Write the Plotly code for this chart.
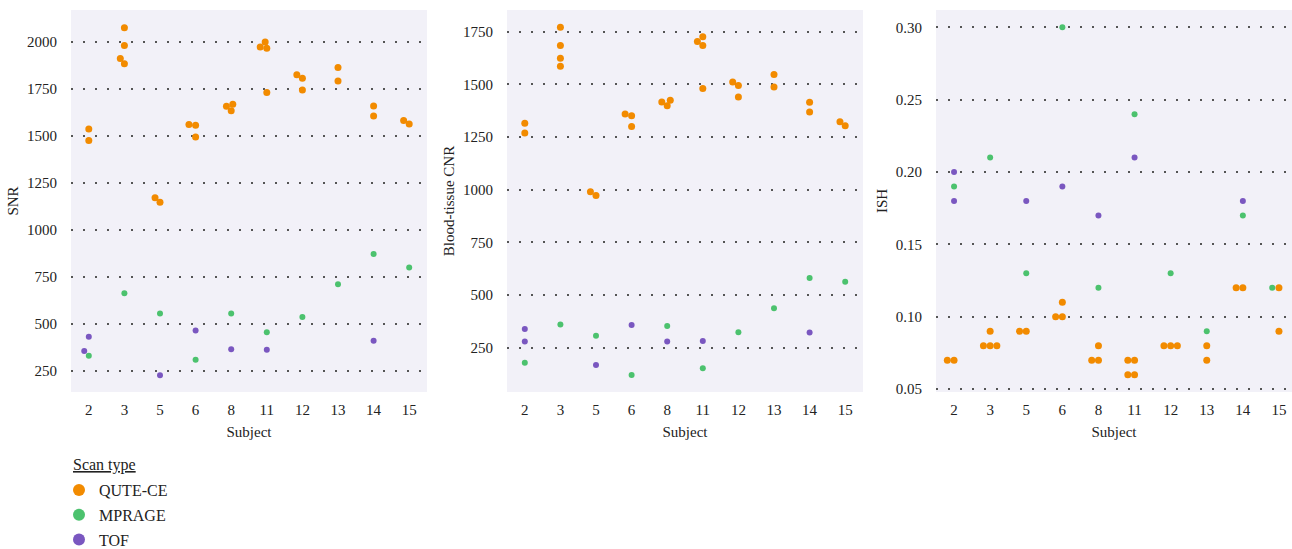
import numpy as np
import plotly.graph_objects as go

subjects = ["2", "3", "5", "6", "8", "11", "12", "13", "14", "15"]
scan_types = ["QUTE-CE", "MPRAGE", "TOF"]
colors = ["#f28b00", "#4cc26e", "#7a57c0"]

# SNR
snr_qute = [[1535, 1475], [2074, 1979, 1910, 1883], [1170, 1147], [1560, 1555, 1493],
            [1656, 1667, 1632], [1998, 1972, 1965, 1729], [1824, 1805, 1743],
            [1863, 1791], [1658, 1605], [1581, 1562]]
snr_mprage = [[331], [663], [555], [310], [555], [456], [537], [711], [871], [800]]
snr_tof = [[431, 356], [], [227], [465], [365], [362], [], [], [411], []]

# Blood-tissue CNR
cnr_qute = [[1316, 1269], [1771, 1684, 1624, 1586], [990, 973], [1359, 1351, 1300],
            [1416, 1398, 1425], [1703, 1726, 1685, 1481], [1511, 1495, 1440],
            [1547, 1487], [1415, 1369], [1323, 1304]]
cnr_mprage = [[179], [360], [307], [121], [353], [153], [323], [438], [581], [563]]
cnr_tof = [[339, 280], [], [168], [358], [280], [282], [], [], [322], []]

# ISH
ish_qute = [[0.07, 0.07], [0.09, 0.08, 0.08, 0.08], [0.09, 0.09], [0.11, 0.10, 0.10],
            [0.08, 0.07, 0.07], [0.07, 0.07, 0.06, 0.06], [0.08, 0.08, 0.08],
            [0.08, 0.07], [0.12, 0.12], [0.12, 0.09]]
ish_mprage = [[0.19], [0.21], [0.13], [0.30], [0.12], [0.24], [0.13], [0.09], [0.17], [0.12]]
ish_tof = [[0.20, 0.18], [], [0.18], [0.19], [0.17], [0.21], [], [], [0.18], []]

snr_ticks = [250, 500, 750, 1000, 1250, 1500, 1750, 2000]
cnr_ticks = [250, 500, 750, 1000, 1250, 1500, 1750]
ish_ticks = [0.05, 0.10, 0.15, 0.20, 0.25, 0.30]

W, H = 1292, 549
TOP, BOT = 10, 392
PH = BOT - TOP
FONT = "Liberation Serif"

panels = [
    dict(series=[snr_qute, snr_mprage, snr_tof], yr=[138, 2168], ticks=snr_ticks,
         fmt="d", title="SNR", px=(71, 427), spacing=35.6),
    dict(series=[cnr_qute, cnr_mprage, cnr_tof], yr=[40, 1853], ticks=cnr_ticks,
         fmt="d", title="Blood-tissue CNR", px=(507, 863), spacing=35.6),
    dict(series=[ish_qute, ish_mprage, ish_tof], yr=[0.048, 0.312], ticks=ish_ticks,
         fmt=".2f", title="ISH", px=(936, 1292), spacing=36.1),
]

R = 3.2  # swarm radius in px


def beeswarm(ys_px, r):
    order = np.argsort(ys_px, kind="stable")
    placed = []
    xs = np.zeros(len(ys_px))
    for idx in order:
        y = ys_px[idx]
        neighbors = []
        for xj, yj in reversed(placed):
            if y - yj < 2 * r:
                neighbors.append((xj, yj))
            else:
                break
        neighbors = neighbors[::-1]
        cands = [0.0]
        left_first = True
        for xj, yj in neighbors:
            dy = y - yj
            dx = np.sqrt(max(4 * r * r - dy * dy, 0)) * 1.05
            cl, cr = xj - dx, xj + dx
            cands.extend([cl, cr] if left_first else [cr, cl])
            left_first = not left_first
        cands = np.array(cands)
        cands = cands[np.argsort(np.abs(cands), kind="stable")]
        chosen = cands[0]
        if neighbors:
            for c in cands:
                if all((xj - c) ** 2 + (yj - y) ** 2 >= 4 * r * r - 1e-9 for xj, yj in neighbors):
                    chosen = c
                    break
        placed.append((chosen, y))
        xs[idx] = chosen
    return xs


fig = go.Figure()
layout = {}
for p_i, p in enumerate(panels):
    ax = "" if p_i == 0 else str(p_i + 1)
    y0, y1 = p["yr"]
    S = p["spacing"]
    pts = {h: ([], []) for h in range(3)}
    for c_i in range(len(subjects)):
        vals, hues = [], []
        for h in range(3):
            for v in p["series"][h][c_i]:
                vals.append(v)
                hues.append(h)
        if not vals:
            continue
        ypx = (np.array(vals, dtype=float) - y0) / (y1 - y0) * PH
        offs = beeswarm(ypx, R)
        for v, h, o in zip(vals, hues, offs):
            pts[h][0].append(c_i + o / S)
            pts[h][1].append(v)
    for h in range(3):
        fig.add_trace(go.Scatter(
            x=pts[h][0], y=pts[h][1], mode="markers", name=scan_types[h],
            legendgroup=scan_types[h], showlegend=(p_i == 0),
            marker=dict(color=colors[h], size=7 if h == 0 else 6, line=dict(width=0)),
            xaxis="x" + ax, yaxis="y" + ax, cliponaxis=False,
        ))
    x_left, x_right = p["px"]
    layout["xaxis" + ax] = dict(
        domain=[x_left / W, x_right / W], range=[-0.5, -0.5 + (x_right - x_left) / S],
        tickvals=list(range(len(subjects))), ticktext=subjects, showgrid=False,
        zeroline=False, showline=False, ticks="outside", ticklen=4,
        tickcolor="rgba(0,0,0,0)", anchor="y" + ax, automargin=False,
        title=dict(text="Subject", standoff=9, font=dict(size=15, family=FONT, color="#222")),
        tickfont=dict(size=15, family=FONT, color="#222"), fixedrange=True,
    )
    layout["yaxis" + ax] = dict(
        domain=[0, 1], range=p["yr"], tickvals=p["ticks"], tickformat=p["fmt"],
        showgrid=True, gridcolor="#555555", gridwidth=1.5, griddash="1.5px,10.5px",
        zeroline=False, showline=False, ticks="outside", ticklen=10,
        tickcolor="rgba(0,0,0,0)", anchor="x" + ax, automargin=False,
        title=dict(text=p["title"], standoff=4, font=dict(size=15, family=FONT, color="#222")),
        tickfont=dict(size=15, family=FONT, color="#222"), fixedrange=True,
    )

fig.update_layout(
    width=W, height=H, margin=dict(l=0, r=0, t=TOP, b=H - BOT, autoexpand=False),
    paper_bgcolor="white", plot_bgcolor="#f2f1f8",
    font=dict(family=FONT, size=15, color="#222"),
    showlegend=True,
    legend=dict(
        x=59 / W, xanchor="left", y=(BOT - 473) / PH, yanchor="top",
        itemsizing="constant", traceorder="grouped", tracegroupgap=1,
        font=dict(size=16, family=FONT, color="#222"), bgcolor="rgba(0,0,0,0)",
    ),
    annotations=[dict(
        text="<u>Scan type</u>", xref="paper", yref="paper",
        x=71 / W, xanchor="left",
        y=(BOT - 465) / PH, yanchor="middle", showarrow=False,
        font=dict(size=16, family=FONT, color="#222"),
    )],
    **layout,
)

fig.write_html(
    "out.html",
    config={"displayModeBar": False},
    post_script="document.body.style.margin='0';document.body.style.overflow='hidden';",
)
